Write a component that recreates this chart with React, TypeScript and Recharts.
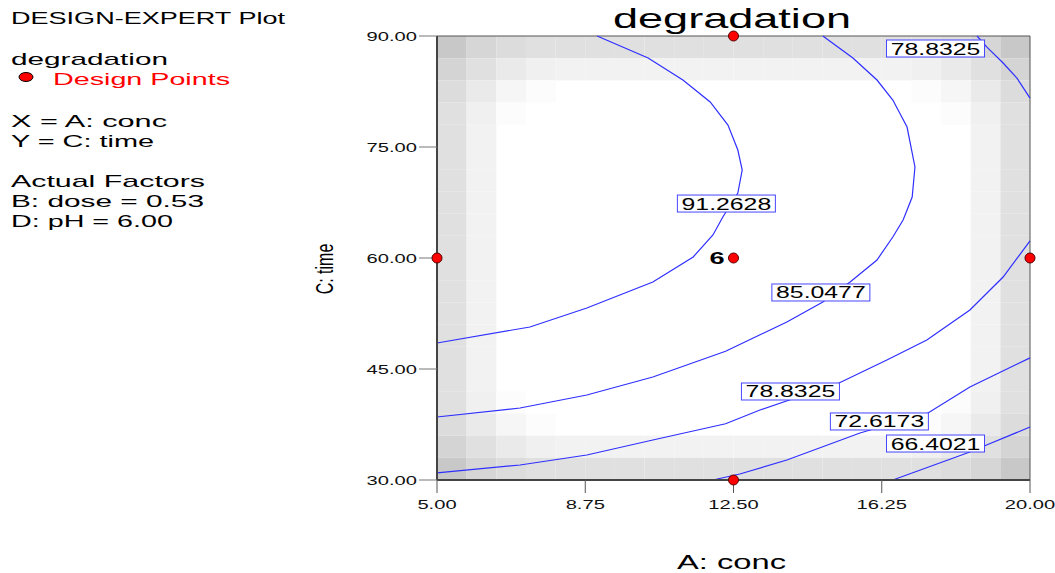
import React from "react";
import {
  ComposedChart,
  Line,
  Scatter,
  XAxis,
  YAxis,
  ReferenceArea,
} from "recharts";

// ── Data ──────────────────────────────────────────────────────────
const X_TICKS = [5, 8.75, 12.5, 16.25, 20];
const Y_TICKS = [30, 45, 60, 75, 90];

// contour 91.2628 (C-shape, top edge -> left edge)
const C_91 = [
  { x: 9.05, y: 90 }, { x: 10.34, y: 87.03 }, { x: 11.22, y: 84.05 },
  { x: 11.91, y: 81.08 }, { x: 12.36, y: 77.97 }, { x: 12.61, y: 74.59 },
  { x: 12.72, y: 71.89 }, { x: 12.61, y: 68.78 }, { x: 12.23, y: 65.54 },
  { x: 11.98, y: 63.11 }, { x: 11.48, y: 60.14 }, { x: 10.46, y: 56.76 },
  { x: 8.79, y: 53.24 }, { x: 7.35, y: 50.68 }, { x: 5, y: 48.51 },
];
// contour 85.0477
const C_85 = [
  { x: 14.76, y: 90 }, { x: 15.52, y: 87.03 }, { x: 16.13, y: 84.05 },
  { x: 16.53, y: 81.35 }, { x: 16.89, y: 77.7 }, { x: 17.09, y: 72.3 },
  { x: 17.02, y: 68.24 }, { x: 16.79, y: 65.14 }, { x: 16.53, y: 62.84 },
  { x: 16.13, y: 59.73 }, { x: 15.45, y: 56.76 }, { x: 14.76, y: 54.05 },
  { x: 13.85, y: 51.35 }, { x: 13.0, y: 49.19 }, { x: 12.3, y: 47.4 },
  { x: 10.46, y: 43.92 }, { x: 8.79, y: 41.49 }, { x: 7.1, y: 39.73 },
  { x: 5, y: 38.51 },
];
// contour 78.8325, lower branch
const C_79_LOW = [
  { x: 5, y: 30.95 }, { x: 7.1, y: 32.03 }, { x: 8.79, y: 33.38 },
  { x: 10.46, y: 35.41 }, { x: 12.3, y: 37.6 }, { x: 13.17, y: 39.46 },
  { x: 15.17, y: 43.11 }, { x: 16.38, y: 46.22 }, { x: 17.39, y: 48.92 },
  { x: 18.48, y: 52.97 }, { x: 19.32, y: 57.43 }, { x: 20, y: 62.3 },
];
// contour 78.8325, top-right corner
const C_79_TOP = [
  { x: 18.66, y: 90 }, { x: 18.91, y: 88.5 }, { x: 19.32, y: 86.35 },
  { x: 19.67, y: 84.3 }, { x: 20, y: 81.6 },
];
// contour 72.6173
const C_73 = [
  { x: 11.98, y: 30 }, { x: 12.66, y: 30.81 }, { x: 13.85, y: 32.7 },
  { x: 15.7, y: 36.35 }, { x: 17.42, y: 39.05 }, { x: 18.48, y: 42.57 },
  { x: 20, y: 46.5 },
];
// contour 66.4021
const C_66 = [
  { x: 16.53, y: 30 }, { x: 18.48, y: 33.78 }, { x: 18.84, y: 34.59 },
  { x: 20, y: 37.16 },
];

const CONTOURS = [C_91, C_85, C_79_LOW, C_79_TOP, C_73, C_66];

const CONTOUR_LABELS = [
  { x: 12.32, y: 67.36, text: "91.2628" },
  { x: 14.71, y: 55.34, text: "85.0477" },
  { x: 13.94, y: 41.96, text: "78.8325" },
  { x: 17.61, y: 88.31, text: "78.8325" },
  { x: 16.19, y: 37.91, text: "72.6173" },
  { x: 17.61, y: 34.93, text: "66.4021" },
];

const DESIGN_POINTS = [
  { x: 5, y: 60 },
  { x: 12.5, y: 90 },
  { x: 12.5, y: 30 },
  { x: 20, y: 60 },
];
const CENTER_POINT = [{ x: 12.5, y: 60, reps: "6" }];

// gray level of the std-error shading, by distance (cells) from the edges
const CORNER_SHADE = [
  [200, 214, 220, 224, 224],
  [212, 224, 234, 240, 242],
  [220, 234, 246, 252, 255],
  [224, 240, 252, 255, 255],
  [224, 242, 255, 255, 255],
];
const GRID_N = 20;

const SIDE_TEXT = [
  { text: "DESIGN-EXPERT Plot", x: 11, y: 24, len: 274, color: "#000" },
  { text: "degradation", x: 11, y: 65, len: 157, color: "#000" },
  { text: "Design Points", x: 53, y: 85, len: 177, color: "#ff0000" },
  { text: "X = A: conc", x: 11, y: 127, len: 156, color: "#000" },
  { text: "Y = C: time", x: 11, y: 147, len: 143, color: "#000" },
  { text: "Actual Factors", x: 11, y: 187, len: 194, color: "#000" },
  { text: "B: dose = 0.53", x: 11, y: 207, len: 193, color: "#000" },
  { text: "D: pH = 6.00", x: 11, y: 227, len: 162, color: "#000" },
];

// ── Look ──────────────────────────────────────────────────────────
const W = 1055;
const H = 573;
const SX = 1.55; // the reference is stretched horizontally
const FONT = "'Liberation Sans', Arial, sans-serif";
const LINE_BLUE = "#2f2fff";
const BOX_BLUE = "#4646ff";

const fmt = (v: number) => v.toFixed(2);

function StretchText({ x, y, size, anchor = "start", weight = "normal", fill = "#000", sx = SX, children }: any) {
  return (
    <text
      transform={`translate(${x},${y}) scale(${sx},1)`}
      x={0}
      y={0}
      textAnchor={anchor}
      fontSize={size}
      fontWeight={weight}
      fontFamily={FONT}
      fill={fill}
    >
      {children}
    </text>
  );
}

function XTick({ x, y, payload }: any) {
  return (
    <StretchText x={x} y={y + 14} size={13} anchor="middle" fill="#111">
      {fmt(payload.value)}
    </StretchText>
  );
}

function YTick({ x, y, payload }: any) {
  return (
    <StretchText x={x} y={y + 4.5} size={13} anchor="end" fill="#111">
      {fmt(payload.value)}
    </StretchText>
  );
}

function LabelBox({ cx, cy, payload }: any) {
  const w = 98;
  const h = 17;
  return (
    <g>
      <rect x={cx - w / 2} y={cy - h / 2} width={w} height={h} fill="#fff" stroke={BOX_BLUE} strokeWidth={1} />
      <StretchText x={cx} y={cy + 6} size={16} anchor="middle">
        {payload.text}
      </StretchText>
    </g>
  );
}

function DesignDot({ cx, cy }: any) {
  return <circle cx={cx} cy={cy} r={5} fill="#ff0000" stroke="#550000" strokeWidth={1} />;
}

function CenterDot({ cx, cy, payload }: any) {
  return (
    <g>
      <StretchText x={cx - 9} y={cy + 5.5} size={16} anchor="end" weight="bold" sx={1.7}>
        {payload.reps}
      </StretchText>
      <circle cx={cx} cy={cy} r={5} fill="#ff0000" stroke="#550000" strokeWidth={1} />
    </g>
  );
}

function shadeCells() {
  const dx = (X_TICKS[4] - X_TICKS[0]) / GRID_N;
  const dy = (Y_TICKS[4] - Y_TICKS[0]) / GRID_N;
  const cells = [];
  for (let r = 0; r < GRID_N; r++) {
    for (let c = 0; c < GRID_N; c++) {
      const dr = Math.min(r, GRID_N - 1 - r, 4);
      const dc = Math.min(c, GRID_N - 1 - c, 4);
      const g = CORNER_SHADE[dr][dc];
      if (g >= 255) continue;
      cells.push(
        <ReferenceArea
          key={`c${r}-${c}`}
          x1={X_TICKS[0] + c * dx}
          x2={X_TICKS[0] + (c + 1) * dx}
          y1={Y_TICKS[4] - (r + 1) * dy}
          y2={Y_TICKS[4] - r * dy}
          fill={`rgb(${g},${g},${g})`}
          fillOpacity={1}
          stroke="none"
          ifOverflow="visible"
        />
      );
    }
  }
  return cells;
}

export default function App() {
  return (
    <div style={{ position: "absolute", left: 0, top: 0, width: W, height: H, background: "#fff" }}>
      <ComposedChart
        width={W}
        height={H}
        margin={{ top: 36, right: 25, bottom: 63, left: 377 }}
      >
        <XAxis
          dataKey="x"
          type="number"
          domain={[5, 20]}
          ticks={X_TICKS}
          tick={<XTick />}
          tickSize={13}
          height={30}
          axisLine={{ stroke: "#444", strokeWidth: 2 }}
          tickLine={{ stroke: "#555" }}
        />
        <YAxis
          dataKey="y"
          type="number"
          domain={[30, 90]}
          ticks={Y_TICKS}
          tick={<YTick />}
          tickSize={18}
          width={60}
          axisLine={{ stroke: "#444", strokeWidth: 2 }}
          tickLine={{ stroke: "#777" }}
        />
        {shadeCells()}
        <ReferenceArea
          x1={5}
          x2={20}
          y1={30}
          y2={90}
          fill="none"
          stroke="#555"
          strokeWidth={1}
          ifOverflow="visible"
        />
        {CONTOURS.map((c, i) => (
          <Line
            key={i}
            data={c}
            dataKey="y"
            type="linear"
            stroke={LINE_BLUE}
            strokeWidth={1.2}
            dot={false}
            activeDot={false}
            isAnimationActive={false}
          />
        ))}
        <Scatter data={CONTOUR_LABELS} shape={<LabelBox />} isAnimationActive={false} />
        <Scatter data={DESIGN_POINTS} shape={<DesignDot />} isAnimationActive={false} />
        <Scatter data={CENTER_POINT} shape={<CenterDot />} isAnimationActive={false} />
      </ComposedChart>

      <svg
        width={W}
        height={H}
        style={{ position: "absolute", left: 0, top: 0, pointerEvents: "none" }}
      >
        {SIDE_TEXT.map((t) => (
          <text
            key={t.text}
            x={t.x}
            y={t.y}
            textLength={t.len}
            lengthAdjust="spacingAndGlyphs"
            fontSize={17}
            fontFamily={FONT}
            fill={t.color}
          >
            {t.text}
          </text>
        ))}
        <ellipse cx={26} cy={77} rx={7} ry={4.5} fill="#ff0000" stroke="#000" strokeWidth={1} />
        <text x={613} y={28} textLength={238} lengthAdjust="spacingAndGlyphs" fontSize={28} fontFamily={FONT}>
          degradation
        </text>
        <text x={677} y={569} textLength={109} lengthAdjust="spacingAndGlyphs" fontSize={20} fontFamily={FONT}>
          A: conc
        </text>
        <g transform={`translate(333,269) scale(${SX},1)`}>
          <text transform="rotate(-90)" x={0} y={0} textAnchor="middle" fontSize={16} fontFamily={FONT}>
            C: time
          </text>
        </g>
      </svg>
    </div>
  );
}
